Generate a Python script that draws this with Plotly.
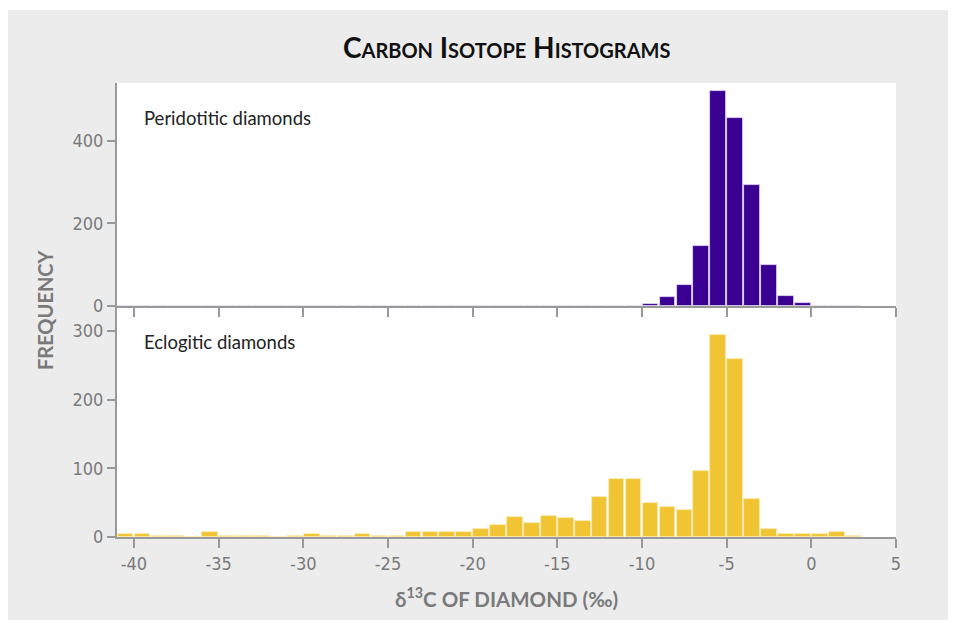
import plotly.graph_objects as go
from plotly.subplots import make_subplots

# Bin left edges (width 1 per-mil bins) from -41 to 2
bin_left = list(range(-41, 3))

peridotitic = [0, 0, 0, 0, 0, 0, 0, 0, 0, 0,   # -41..-32
               0, 0, 0, 0, 0, 0, 0, 0, 0, 0,   # -31..-22
               0, 0, 0, 0, 0, 0, 1, 0, 0, 1,   # -21..-12
               1, 4, 21, 51, 146, 519, 455, 292, 99, 23,  # -11..-2
               8, 1, 0, 0]                     # -1..2

eclogitic = [4, 5, 2, 2, 0, 8, 2, 2, 2, 0,     # -41..-32
             2, 5, 2, 2, 4, 2, 2, 8, 7, 8,     # -31..-22
             8, 11, 18, 29, 21, 31, 27, 24, 58, 84,  # -21..-12
             84, 49, 44, 40, 96, 294, 260, 56, 11, 4,  # -11..-2
             5, 5, 8, 2]                       # -1..2

x_ticks = [-40, -35, -30, -25, -20, -15, -10, -5, 0, 5]
x_tick_labels = ["-40", "-35", "-30", "-25", "-20", "-15", "-10", "-5", "0", "5"]
top_ticks = [0, 200, 400]
bottom_ticks = [0, 100, 200, 300]

centers = [b + 0.5 for b in bin_left]

fig = make_subplots(rows=2, cols=1, shared_xaxes=False, vertical_spacing=0,
                    row_heights=[0.4912, 0.5088])

fig.add_trace(go.Bar(x=centers, y=peridotitic, width=0.92,
                     marker=dict(color="#3a0092", line=dict(color="#e6dcf5", width=0.8)),
                     showlegend=False, hoverinfo="x+y"), row=1, col=1)
fig.add_trace(go.Bar(x=centers, y=eclogitic, width=0.92,
                     marker=dict(color="#f0c432", line=dict(color="#fbeab8", width=0.8)),
                     showlegend=False, hoverinfo="x+y"), row=2, col=1)

axis_col = "#999999"
tick_font = dict(family="Liberation Sans Narrow, Arial Narrow, DejaVu Sans Condensed, sans-serif",
                 size=18, color="#7a7a7a")

common_x = dict(range=[-41, 5], tickvals=x_ticks, ticktext=x_tick_labels, showline=True,
                linecolor=axis_col, linewidth=2, ticks="outside", ticklen=9, tickwidth=2,
                tickcolor=axis_col, showgrid=False, zeroline=False, tickfont=tick_font)
fig.update_xaxes(**common_x, showticklabels=False, row=1, col=1)
fig.update_xaxes(**common_x, showticklabels=True, row=2, col=1)

common_y = dict(showline=True, linecolor=axis_col, linewidth=2, ticks="outside",
                ticklen=8, tickwidth=1.5, tickcolor=axis_col, showgrid=False,
                zeroline=False, tickfont=tick_font)
fig.update_yaxes(**common_y, range=[0, 539], tickvals=top_ticks, row=1, col=1)
fig.update_yaxes(**common_y, range=[0, 336.5], tickvals=bottom_ticks, row=2, col=1)

# page is offset by the 8px body margin: work in reference pixels minus 8
OFF = 8
W, H = 956 - OFF, 623 - OFF
L, T = 117 - OFF, 83 - OFF
R = W - (896 - OFF)
B = H - (537 - OFF)
pw, ph = W - L - R, H - T - B

def px(x):
    return (x - OFF - L) / pw

def py(y):
    return (H - B - (y - OFF)) / ph

shapes = [
    dict(type="rect", xref="paper", yref="paper", x0=px(0), x1=px(960), y0=py(0), y1=py(10),
         fillcolor="white", line=dict(width=0), layer="above"),
    dict(type="rect", xref="paper", yref="paper", x0=px(0), x1=px(960), y0=py(620), y1=py(630),
         fillcolor="white", line=dict(width=0), layer="above"),
]

label_font = dict(family="Lato, Open Sans, sans-serif", size=18.5, color="#222222")
annotations = [
    dict(text="Peridotitic diamonds", xref="paper", yref="paper", x=px(142), y=py(118),
         xanchor="left", yanchor="middle", showarrow=False, font=label_font),
    dict(text="Eclogitic diamonds", xref="paper", yref="paper", x=px(142), y=py(342),
         xanchor="left", yanchor="middle", showarrow=False, font=label_font),
    dict(text="FREQUENCY", xref="paper", yref="paper", x=px(45), y=py(310),
         xanchor="center", yanchor="middle", textangle=-90, showarrow=False,
         font=dict(family="Lato, sans-serif", size=20, color="#7a7a7a", weight=700)),
    dict(text="δ<sup>13</sup>C OF DIAMOND (‰)", xref="paper", yref="paper", x=px(506), y=py(597),
         xanchor="center", yanchor="middle", showarrow=False,
         font=dict(family="Lato, sans-serif", size=20.5, color="#7a7a7a", weight=700)),
    dict(text="Carbon Isotope Histograms", xref="paper", yref="paper", x=px(506), y=py(47),
         xanchor="center", yanchor="middle", showarrow=False,
         font=dict(family="Lato, sans-serif", size=28, color="#111111", weight=700,
                   variant="small-caps")),
]

fig.update_layout(width=W, height=H, margin=dict(l=L, r=R, t=T, b=B),
                  paper_bgcolor="#ececec", plot_bgcolor="white", bargap=0,
                  shapes=shapes, annotations=annotations)

fig.write_html("out.html")
